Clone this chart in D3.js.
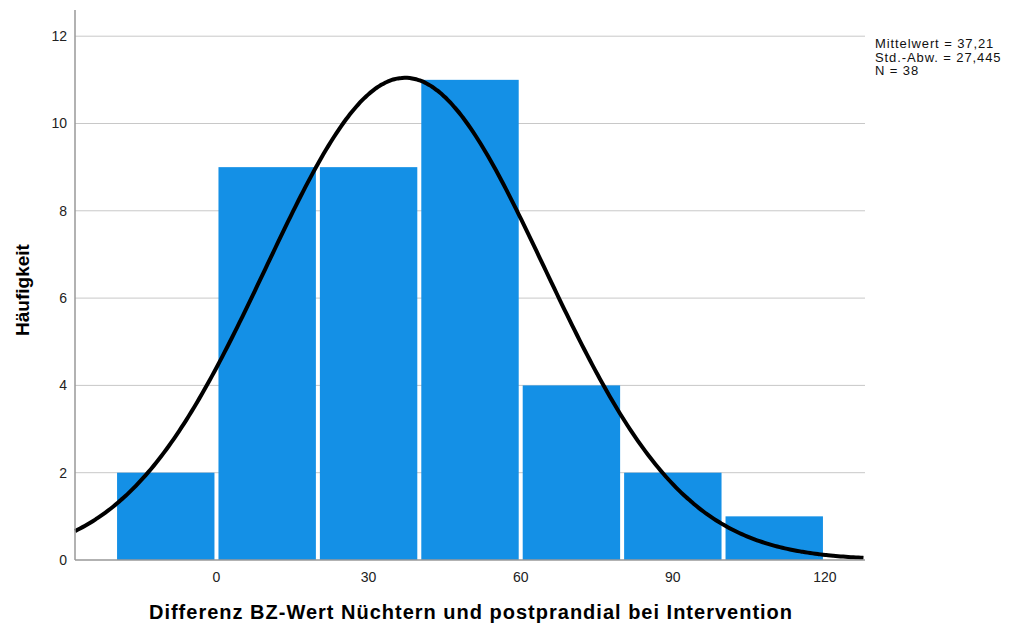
<!DOCTYPE html>
<html>
<head>
<meta charset="utf-8">
<script src="https://cdn.jsdelivr.net/npm/d3@7"></script>
<style>
  body { margin: 0; background: #fff; }
  text { font-family: "Liberation Sans", Arial, sans-serif; }
</style>
</head>
<body>
<div id="chart"></div>
<script>
// Histogram bins (width 20) and counts
const binStarts = [-20, 0, 20, 40, 60, 80, 100];
const counts = [2, 9, 9, 11, 4, 2, 1];
const binWidth = 20;
const xTicks = [0, 30, 60, 90, 120];
const yTicks = [0, 2, 4, 6, 8, 10, 12];
const mean = 37.21, sd = 27.445, n = 38;
const statLines = ["Mittelwert = 37,21", "Std.-Abw. = 27,445", "N = 38"];

const W = 1010, H = 626;
const margin = { top: 10, right: 145, bottom: 66, left: 75 };
const width = W - margin.left - margin.right,
      height = H - margin.top - margin.bottom;

const svg = d3.select("#chart").append("svg")
    .attr("width", W).attr("height", H);

const g = svg.append("g")
    .attr("transform", `translate(${margin.left},${margin.top})`);

const x = d3.scaleLinear().domain([-27.9, 127.9]).range([0, width]);
const y = d3.scaleLinear().domain([0, 12.6]).range([height, 0]);

// grid lines
g.selectAll(".grid")
    .data(yTicks.filter(d => d > 0))
    .enter().append("line")
    .attr("x1", 0).attr("x2", width)
    .attr("y1", d => y(d)).attr("y2", d => y(d))
    .attr("stroke", "#c8c8c8").attr("stroke-width", 1);

// bars
g.selectAll(".bar")
    .data(binStarts)
    .enter().append("rect")
    .attr("x", d => x(d) + 2)
    .attr("y", (d, i) => y(counts[i]))
    .attr("width", d => x(d + binWidth) - x(d) - 4)
    .attr("height", (d, i) => y(0) - y(counts[i]))
    .attr("fill", "#1490e6");

// normal curve
const curveX = d3.range(-27.9, 128, 0.5);
const normal = v => n * binWidth / (sd * Math.sqrt(2 * Math.PI)) *
    Math.exp(-0.5 * Math.pow((v - mean) / sd, 2));

g.append("path")
    .datum(curveX)
    .attr("fill", "none")
    .attr("stroke", "#000")
    .attr("stroke-width", 4)
    .attr("d", d3.line().x(d => x(d)).y(d => y(normal(d))).curve(d3.curveBasis));

// axes lines
g.append("line")
    .attr("x1", 0).attr("x2", 0).attr("y1", 0).attr("y2", height)
    .attr("stroke", "#999").attr("stroke-width", 1.5);
g.append("line")
    .attr("x1", 0).attr("x2", width).attr("y1", height).attr("y2", height)
    .attr("stroke", "#999").attr("stroke-width", 1.5);

// y tick labels
g.selectAll(".ylab")
    .data(yTicks)
    .enter().append("text")
    .attr("x", -8).attr("y", d => y(d))
    .attr("dy", "0.35em")
    .attr("text-anchor", "end")
    .attr("font-size", 14).attr("fill", "#222")
    .text(d => d);

// x tick labels
g.selectAll(".xlab")
    .data(xTicks)
    .enter().append("text")
    .attr("x", d => x(d)).attr("y", height + 22)
    .attr("text-anchor", "middle")
    .attr("font-size", 14).attr("fill", "#222")
    .text(d => d);

// axis titles
svg.append("text")
    .attr("x", 471).attr("y", 619)
    .attr("text-anchor", "middle")
    .attr("font-size", 20).attr("font-weight", "bold")
    .attr("letter-spacing", 1)
    .text("Differenz BZ-Wert Nüchtern und postprandial bei Intervention");

svg.append("text")
    .attr("transform", "translate(29,290) rotate(-90)")
    .attr("text-anchor", "middle")
    .attr("font-size", 19).attr("font-weight", "bold")
    .text("Häufigkeit");

// stats box
svg.selectAll(".stat")
    .data(statLines)
    .enter().append("text")
    .attr("x", 875).attr("y", (d, i) => 48 + i * 13.5)
    .attr("font-size", 13).attr("fill", "#111")
    .attr("letter-spacing", 0.9)
    .text(d => d);
</script>
</body>
</html>
